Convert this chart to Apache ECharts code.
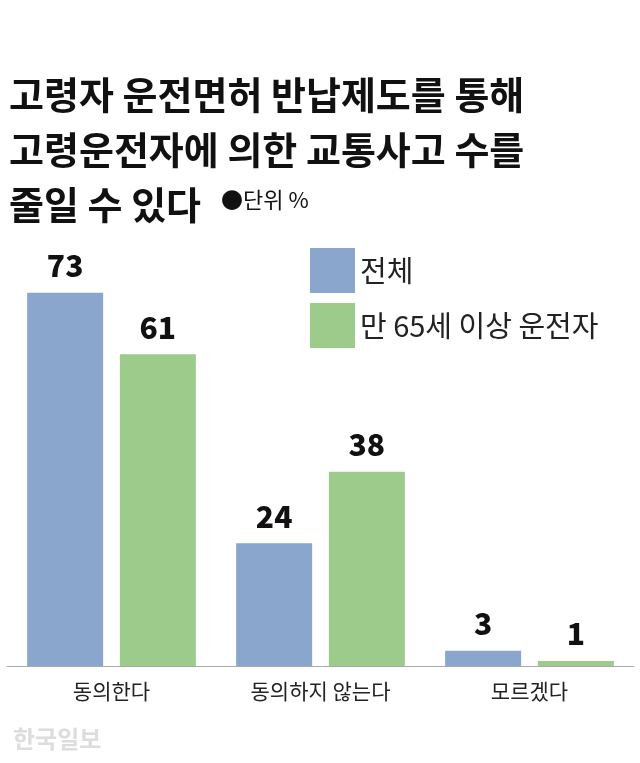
<!DOCTYPE html>
<html><head><meta charset="utf-8">
<script src="https://cdn.jsdelivr.net/npm/echarts@6/dist/echarts.min.js"></script>
<style>body{margin:0;background:#fff}#c{width:640px;height:763px}</style>
</head><body><div id="c"></div>
<script>
const categories = ['동의한다', '동의하지 않는다', '모르겠다'];
const seriesNames = ['전체', '만 65세 이상 운전자'];
const totalValues = [73, 24, 3];
const elderValues = [61, 38, 1];
const titleLines = ['고령자 운전면허 반납제도를 통해', '고령운전자에 의한 교통사고 수를', '줄일 수 있다'];
const F = '"Noto Sans CJK KR", sans-serif';
const chart = echarts.init(document.getElementById('c'));
chart.setOption({
  animation: false,
  title: [
    {text: titleLines.join('\n'), left: 4, top: 62, textStyle: {fontFamily: F, fontSize: 38, fontWeight: 'bold', color: '#111', lineHeight: 55}},
    {text: '●단위 %', left: 216, top: 184, textStyle: {fontFamily: F, fontSize: 22, fontWeight: 'normal', color: '#111'}},
    {text: '한국일보', left: 8, top: 722, textStyle: {fontFamily: F, fontSize: 24, fontWeight: 'bold', color: '#ddd'}}
  ],
  legend: {orient: 'vertical', left: 305, top: 243, itemWidth: 45, itemHeight: 45, itemGap: 10, icon: 'rect',
    textStyle: {fontFamily: F, fontSize: 29, color: '#222'}, data: seriesNames},
  grid: {left: 7, right: 6, top: 257, bottom: 97, containLabel: false},
  xAxis: {type: 'category', data: categories, axisTick: {show: false},
    axisLine: {lineStyle: {color: '#aaa', width: 1}},
    axisLabel: {fontFamily: F, fontSize: 21, color: '#222', margin: 15}},
  yAxis: {type: 'value', min: 0, max: 80, show: false, splitLine: {show: false}},
  series: [
    {name: seriesNames[0], type: 'bar', data: totalValues, barWidth: 76, barGap: '22%', itemStyle: {color: '#8aa6cc'},
      label: {show: true, position: 'top', distance: 12, fontFamily: F, fontSize: 30, fontWeight: 900, color: '#111'}},
    {name: seriesNames[1], type: 'bar', data: elderValues, barWidth: 76, itemStyle: {color: '#9dcb8c'},
      label: {show: true, position: 'top', distance: 12, fontFamily: F, fontSize: 30, fontWeight: 900, color: '#111'}}
  ]
});
</script></body></html>
